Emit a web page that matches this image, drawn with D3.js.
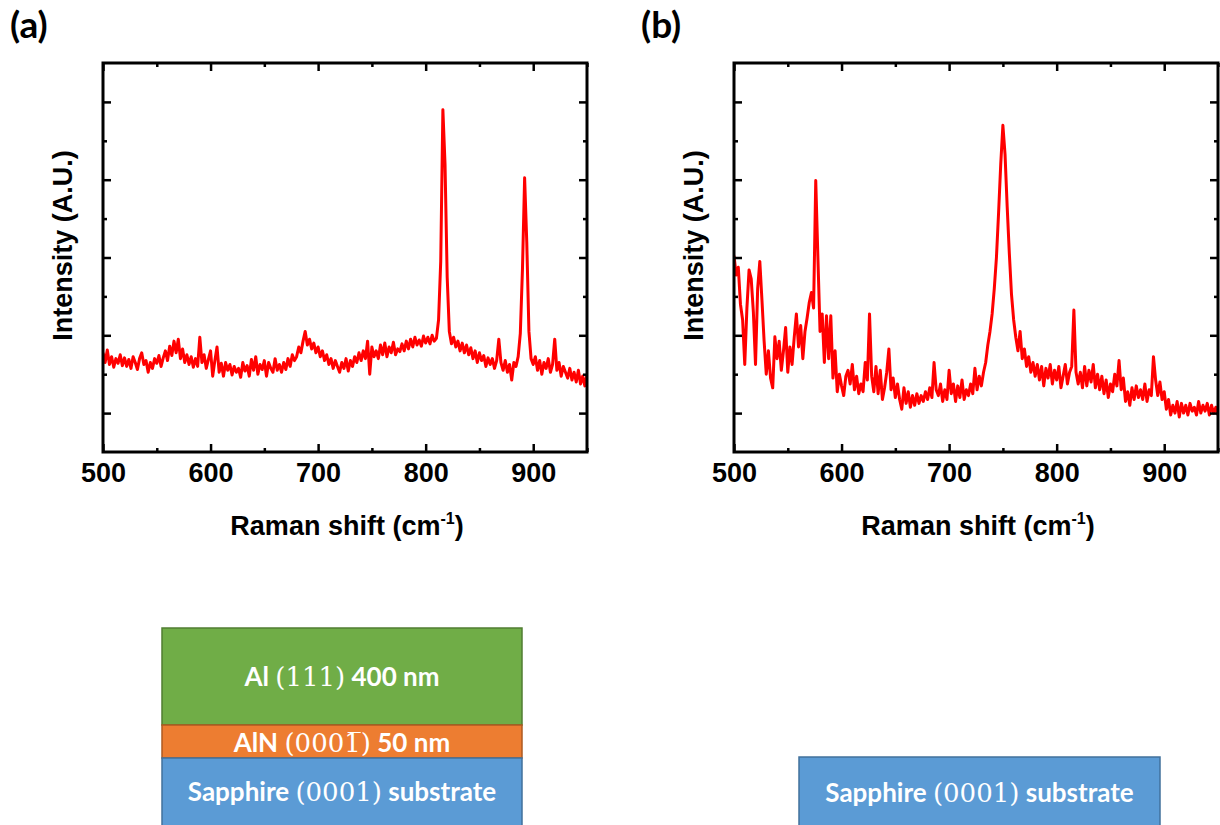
<!DOCTYPE html>
<html>
<head>
<meta charset="utf-8">
<script src="https://cdn.jsdelivr.net/npm/d3@7"></script>
<style>
  body { margin: 0; background: #fff; }
  svg { display: block; }
</style>
</head>
<body>
<script>
// Raman spectra, sampled every 2 cm-1 from 500 to 950 (values in arbitrary units)
var shiftStart = 500, shiftStep = 2;

var intensityA = [
  2.55, 2.30, 2.62, 2.25, 2.45, 2.18, 2.40, 2.28, 2.50, 2.22,
  2.42, 2.20, 2.38, 2.15, 2.45, 2.30, 2.12, 2.40, 2.55, 2.25,
  2.35, 2.05, 2.30, 2.15, 2.40, 2.28, 2.48, 2.20, 2.42, 2.60,
  2.35, 2.72, 2.48, 2.85, 2.55, 2.90, 2.40, 2.65, 2.30, 2.50,
  2.25, 2.45, 2.18, 2.40, 2.20, 2.95, 2.30, 2.50, 2.15, 2.38,
  2.60, 1.95, 2.35, 2.70, 2.05, 2.28, 1.95, 2.30, 2.10, 2.25,
  1.98, 2.20, 2.05, 2.15, 1.92, 2.30, 2.08, 2.22, 1.95, 2.38,
  2.10, 2.45, 2.00, 2.25, 2.12, 2.35, 1.95, 2.30, 2.15, 2.05,
  2.40, 2.10, 2.25, 2.05, 2.30, 2.12, 2.40, 2.20, 2.50, 2.35,
  2.45, 2.70, 2.55, 2.85, 3.10, 2.75, 2.90, 2.65, 2.80, 2.55,
  2.70, 2.45, 2.60, 2.35, 2.50, 2.25, 2.40, 2.15, 2.35, 2.20,
  2.05, 2.30, 2.15, 2.40, 2.08, 2.35, 2.20, 2.45, 2.30, 2.55,
  2.35, 2.60, 2.40, 2.85, 2.00, 2.70, 2.45, 2.60, 2.40, 2.75,
  2.50, 2.80, 2.45, 2.70, 2.55, 2.82, 2.50, 2.65, 2.58, 2.78,
  2.60, 2.85, 2.65, 2.90, 2.70, 2.95, 2.75, 2.88, 2.72, 2.98,
  2.80, 2.95, 2.78, 3.00, 2.85, 2.92, 3.40, 4.90, 8.80, 7.40,
  4.50, 3.10, 2.78, 2.95, 2.70, 2.85, 2.60, 2.80, 2.55, 2.75,
  2.50, 2.68, 2.40, 2.60, 2.30, 2.55, 2.35, 2.48, 2.20, 2.42,
  2.25, 2.40, 2.15, 2.35, 2.90, 2.30, 2.10, 2.35, 2.05, 2.25,
  1.85, 2.30, 2.20, 2.45, 3.05, 4.70, 7.05, 5.40, 3.10, 2.40,
  2.25, 2.45, 2.10, 2.35, 2.00, 2.30, 2.15, 2.40, 2.05, 2.25,
  2.90, 2.10, 2.30, 1.95, 2.20, 2.05, 1.90, 2.15, 1.85, 2.05,
  1.80, 2.10, 1.75, 1.95, 1.70, 2.00
];

var intensityB = [
  5.05, 4.55, 4.75, 3.80, 3.40, 2.25, 3.70, 4.68, 4.45, 3.60,
  2.25, 4.20, 4.90, 3.90, 2.85, 2.00, 2.60, 1.90, 1.65, 2.96,
  2.40, 2.85, 2.10, 2.60, 3.20, 2.05, 2.70, 2.25, 2.95, 3.55,
  2.70, 3.25, 2.40, 3.10, 3.45, 3.85, 4.10, 3.70, 6.98, 5.00,
  3.10, 3.55, 2.30, 3.50, 2.40, 3.50, 1.90, 2.60, 1.55, 2.00,
  1.70, 1.45, 1.95, 2.10, 1.75, 2.25, 1.60, 1.95, 1.50, 1.75,
  1.55, 2.30, 1.85, 3.55, 1.95, 1.55, 2.20, 1.50, 2.10, 1.35,
  1.65, 2.05, 2.65, 1.60, 1.90, 1.40, 1.75, 1.35, 1.10, 1.65,
  1.25, 1.55, 1.15, 1.45, 1.20, 1.50, 1.25, 1.45, 1.30, 1.55,
  1.35, 1.65, 1.40, 2.30, 1.60, 1.45, 1.75, 1.30, 1.60, 1.35,
  2.10, 1.50, 1.75, 1.30, 1.70, 1.40, 1.85, 1.35, 1.60, 1.45,
  1.75, 1.50, 2.15, 1.60, 1.95, 1.70, 2.05, 2.30, 2.75, 3.10,
  3.55, 4.20, 5.00, 6.15, 7.40, 8.40, 7.65, 6.30, 5.10, 4.05,
  3.40, 2.95, 2.60, 3.10, 2.40, 2.65, 2.20, 2.45, 2.05, 2.30,
  1.95, 2.25, 1.85, 2.20, 1.70, 2.15, 1.90, 2.25, 1.75, 2.10,
  1.85, 2.20, 1.65, 1.95, 2.25, 1.75, 2.05, 2.20, 3.65, 2.05,
  1.75, 2.05, 1.65, 2.20, 1.70, 2.10, 1.80, 2.25, 1.65, 2.00,
  1.60, 1.95, 1.50, 1.85, 1.40, 1.75, 1.55, 2.00, 1.70, 2.35,
  1.60, 1.90, 1.30, 1.55, 1.20, 1.65, 1.35, 1.70, 1.40, 1.60,
  1.35, 1.75, 1.30, 1.60, 1.45, 2.45, 1.85, 1.45, 1.80, 1.35,
  1.55, 1.10, 1.35, 0.95, 1.20, 1.00, 1.30, 0.90, 1.25, 1.00,
  1.20, 0.95, 1.25, 1.05, 1.15, 0.95, 1.30, 1.00, 1.20, 1.05,
  1.25, 0.95, 1.20, 1.00, 1.15, 0.95
];

var xMajor = [500, 600, 700, 800, 900];
var xMinor = [550, 650, 750, 850, 950];
var yMajor = [1, 3, 5, 7, 9];
var yMinor = [2, 4, 6, 8];

var panelLabels = ["(a)", "(b)"];
var xTitle = "Raman shift (cm";
var yTitle = "Intensity (A.U.)";

// layer stacks below the spectra: [sans text, math text, sans text]
var stackA = [
  {layer: "Al", parts: ["Al ", "(111)", " 400 nm"]},
  {layer: "AlN", parts: ["AlN ", "(000\u0031\u0305)", " 50 nm"]},
  {layer: "sapphire", parts: ["Sapphire ", "(0001)", " substrate"]}
];
var stackB = [
  {layer: "sapphire", parts: ["Sapphire ", "(0001)", " substrate"]}
];

var layerFill = {Al: "#70ad47", AlN: "#ed7d31", sapphire: "#5b9bd5"};
var layerEdge = {Al: "#507e32", AlN: "#ae5a21", sapphire: "#41719c"};

var W = 1220, H = 825;
var svg = d3.select("body").append("svg").attr("width", W).attr("height", H);

var axisFont = "'Liberation Sans', Arial, sans-serif";
var boxFont = "Lato, 'Open Sans', sans-serif";
var mathFont = "'DejaVu Serif', 'Liberation Serif', serif";

var plotW = 484, plotH = 389;

function drawPanel(left, top, values, label, id) {
  var x = d3.scaleLinear().domain([500, 950]).range([0, plotW]);
  var y = d3.scaleLinear().domain([0, 10]).range([plotH, 0]);
  var g = svg.append("g").attr("transform", "translate(" + left + "," + top + ")");

  g.append("clipPath").attr("id", "clip" + id)
    .append("rect").attr("width", plotW).attr("height", plotH);

  var pts = values.map(function (v, i) { return [shiftStart + i * shiftStep, v]; });
  var line = d3.line().x(function (d) { return x(d[0]); }).y(function (d) { return y(d[1]); });

  g.append("path").datum(pts)
    .attr("clip-path", "url(#clip" + id + ")")
    .attr("d", line)
    .attr("fill", "none")
    .attr("stroke", "#ff0000")
    .attr("stroke-width", 3)
    .attr("stroke-linejoin", "round");

  function tickAxis(axis, size, translate) {
    var a = g.append("g").attr("transform", translate || null).call(axis.tickSize(size));
    a.select(".domain").remove();
    a.selectAll("line").attr("stroke", "#000").attr("stroke-width", 2.5);
    return a;
  }

  var bottom = tickAxis(d3.axisBottom(x).tickValues(xMajor).tickPadding(11), -8, "translate(0," + plotH + ")");
  bottom.selectAll("text")
    .attr("font-family", axisFont).attr("font-weight", "bold").attr("font-size", 27).attr("fill", "#000");
  tickAxis(d3.axisBottom(x).tickValues(xMinor).tickFormat(""), -4, "translate(0," + plotH + ")");
  tickAxis(d3.axisTop(x).tickValues(xMajor).tickFormat(""), -8);
  tickAxis(d3.axisTop(x).tickValues(xMinor).tickFormat(""), -4);
  tickAxis(d3.axisLeft(y).tickValues(yMajor).tickFormat(""), -8);
  tickAxis(d3.axisLeft(y).tickValues(yMinor).tickFormat(""), -4);
  tickAxis(d3.axisRight(y).tickValues(yMajor).tickFormat(""), -8, "translate(" + plotW + ",0)");
  tickAxis(d3.axisRight(y).tickValues(yMinor).tickFormat(""), -4, "translate(" + plotW + ",0)");

  g.append("rect")
    .attr("width", plotW).attr("height", plotH)
    .attr("fill", "none").attr("stroke", "#000").attr("stroke-width", 3);

  var xt = g.append("text")
    .attr("x", plotW / 2 + 2).attr("y", plotH + 83)
    .attr("text-anchor", "middle")
    .attr("font-family", axisFont).attr("font-weight", "bold").attr("font-size", 27);
  xt.append("tspan").text(xTitle);
  xt.append("tspan").attr("font-size", 16).attr("dy", -11).text("-1");
  xt.append("tspan").attr("dy", 11).text(")");

  g.append("text")
    .attr("transform", "translate(-31," + (plotH / 2 - 12) + ") rotate(-90)")
    .attr("text-anchor", "middle")
    .attr("font-family", axisFont).attr("font-weight", "bold").attr("font-size", 27)
    .text(yTitle);

  svg.append("text")
    .attr("x", left - 93).attr("y", 38)
    .attr("font-family", boxFont).attr("font-weight", "bold").attr("font-size", 37)
    .text(label);
}

drawPanel(103, 63, intensityA, panelLabels[0], "a");
drawPanel(734, 63, intensityB, panelLabels[1], "b");

// layer diagrams
function drawStack(left, width, layers, tops, heights, baselines) {
  var g = svg.append("g");
  layers.forEach(function (d, i) {
    g.append("rect")
      .attr("x", left).attr("y", tops[i])
      .attr("width", width).attr("height", heights[i])
      .attr("fill", layerFill[d.layer])
      .attr("stroke", layerEdge[d.layer]).attr("stroke-width", 1.5);
    var t = g.append("text")
      .attr("x", left + width / 2).attr("y", baselines[i])
      .attr("text-anchor", "middle").attr("fill", "#fff").attr("font-size", 26);
    t.append("tspan").attr("font-family", boxFont).attr("font-weight", "bold").text(d.parts[0]);
    t.append("tspan").attr("font-family", mathFont).text(d.parts[1]);
    t.append("tspan").attr("font-family", boxFont).attr("font-weight", "bold").text(d.parts[2]);
  });
}

drawStack(162, 360, stackA, [628, 725, 758], [97, 33, 80], [686, 752, 801]);
drawStack(799, 361, stackB, [757], [80], [802]);
</script>
</body>
</html>
